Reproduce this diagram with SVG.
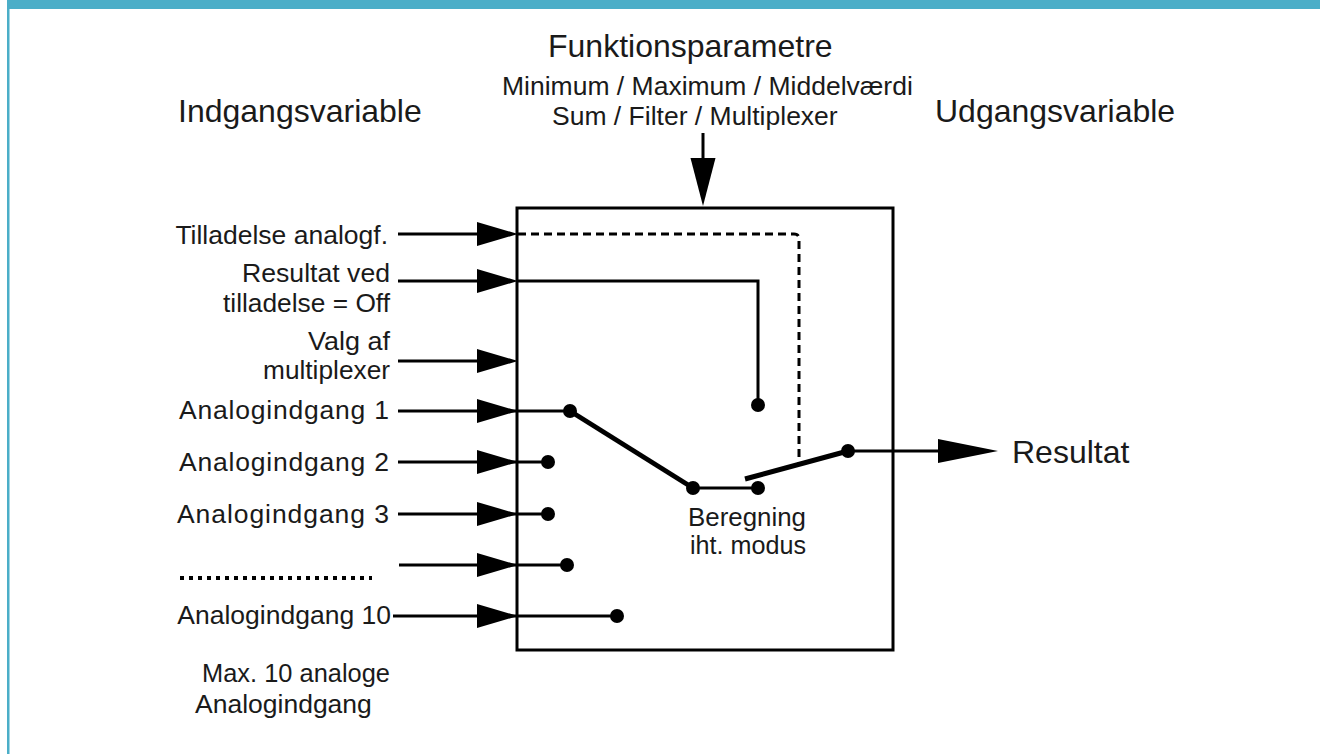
<svg xmlns="http://www.w3.org/2000/svg" width="1320" height="754" viewBox="0 0 1320 754">
<style>
  .t { font-family: "Liberation Sans", Arial, sans-serif; fill: #1a1a1a; }
  .title { font-size: 32px; }
  .lbl { font-size: 26.5px; }
  .lbl2 { font-size: 25px; }
  .ln { stroke: #000; stroke-width: 3; fill: none; }
  .thick { stroke: #000; stroke-width: 5; fill: none; }
  .dash { stroke: #000; stroke-width: 3; fill: none; stroke-dasharray: 8 5; }
  .dot { fill: #000; }
  .ah { fill: #000; }
</style>
<rect x="0" y="0" width="1320" height="754" fill="#ffffff"/>
<rect x="7" y="0" width="1313" height="9" fill="#4BAEC8"/>
<rect x="7" y="0" width="2.5" height="754" fill="#4BAEC8"/>

<g id="titles">
  <text class="t title" x="548" y="57">Funktionsparametre</text>
  <text class="t lbl" x="502" y="95">Minimum / Maximum / Middelværdi</text>
  <text class="t lbl" x="552" y="125">Sum / Filter / Multiplexer</text>
  <text class="t title" x="178" y="122">Indgangsvariable</text>
  <text class="t title" x="935" y="122">Udgangsvariable</text>
</g>

<g id="block">
  <rect x="517" y="208" width="376" height="442" class="ln"/>
</g>

<g id="labels" text-anchor="end">
  <text class="t lbl" x="388" y="244">Tilladelse analogf.</text>
  <text class="t lbl2" x="390" y="282" textLength="148" lengthAdjust="spacingAndGlyphs">Resultat ved</text>
  <text class="t lbl2" x="390" y="312" textLength="167" lengthAdjust="spacingAndGlyphs">tilladelse = Off</text>
  <text class="t lbl2" x="390" y="350" textLength="82" lengthAdjust="spacingAndGlyphs">Valg af</text>
  <text class="t lbl2" x="390" y="379" textLength="127" lengthAdjust="spacingAndGlyphs">multiplexer</text>
  <text class="t lbl" x="389" y="419" textLength="210" lengthAdjust="spacing">Analogindgang 1</text>
  <text class="t lbl" x="389" y="471" textLength="210" lengthAdjust="spacing">Analogindgang 2</text>
  <text class="t lbl" x="389" y="523" textLength="212" lengthAdjust="spacing">Analogindgang 3</text>
  <text class="t lbl" x="391" y="624">Analogindgang 10</text>
</g>

<g id="notes">
  <text class="t lbl" x="202" y="682" textLength="188" lengthAdjust="spacingAndGlyphs">Max. 10 analoge</text>
  <text class="t lbl" x="195" y="713">Analogindgang</text>
  <text class="t lbl2" x="747" y="526" text-anchor="middle" textLength="118" lengthAdjust="spacingAndGlyphs">Beregning</text>
  <text class="t lbl2" x="748" y="554" text-anchor="middle" textLength="116" lengthAdjust="spacingAndGlyphs">iht. modus</text>
  <text class="t title" x="1012" y="463">Resultat</text>
  <line x1="180" y1="578" x2="372" y2="578" stroke="#000" stroke-width="4" stroke-dasharray="4 5"/>
</g>

<g id="connectors">
  <!-- top parameter arrow -->
  <line x1="703" y1="133" x2="703" y2="160" class="ln"/>
  <polygon class="ah" points="690.5,158 715.5,158 703,206"/>

  <!-- input lines -->
  <line x1="398" y1="234" x2="480" y2="234" class="ln"/>
  <polygon class="ah" points="477,222 477,246 518,234"/>

  <line x1="398" y1="281" x2="480" y2="281" class="ln"/>
  <polygon class="ah" points="477,269 477,293 518,281"/>

  <line x1="398" y1="361" x2="480" y2="361" class="ln"/>
  <polygon class="ah" points="477,349 477,373 518,361"/>

  <line x1="398" y1="411" x2="570" y2="411" class="ln"/>
  <polygon class="ah" points="477,399 477,423 518,411"/>

  <line x1="398" y1="462" x2="548" y2="462" class="ln"/>
  <polygon class="ah" points="477,450 477,474 518,462"/>

  <line x1="398" y1="514" x2="548" y2="514" class="ln"/>
  <polygon class="ah" points="477,502 477,526 518,514"/>

  <line x1="399" y1="565" x2="567" y2="565" class="ln"/>
  <polygon class="ah" points="477,553 477,577 518,565"/>

  <line x1="393" y1="616" x2="617" y2="616" class="ln"/>
  <polygon class="ah" points="477,604 477,628 518,616"/>

  <!-- enable (dashed) -->
  <path d="M518,234 H794 Q799,234 799,239 V464" class="dash"/>
  <!-- result when off -->
  <path d="M518,281 H758 V405" class="ln"/>

  <!-- switch lines -->
  <line x1="570" y1="411" x2="693" y2="488" class="thick"/>
  <line x1="693" y1="488" x2="758" y2="488" class="ln"/>
  <line x1="745" y1="479" x2="848" y2="451" class="thick"/>

  <!-- output -->
  <line x1="848" y1="451" x2="942" y2="451" class="ln"/>
  <polygon class="ah" points="938,439 938,463 998,451"/>

  <!-- dots -->
  <circle class="dot" cx="570" cy="411" r="7"/>
  <circle class="dot" cx="548" cy="462" r="7"/>
  <circle class="dot" cx="548" cy="514" r="7"/>
  <circle class="dot" cx="567" cy="565" r="7"/>
  <circle class="dot" cx="617" cy="616" r="7"/>
  <circle class="dot" cx="758" cy="405" r="7"/>
  <circle class="dot" cx="693" cy="488" r="7"/>
  <circle class="dot" cx="758" cy="488" r="7"/>
  <circle class="dot" cx="848" cy="451" r="7"/>
</g>
</svg>
